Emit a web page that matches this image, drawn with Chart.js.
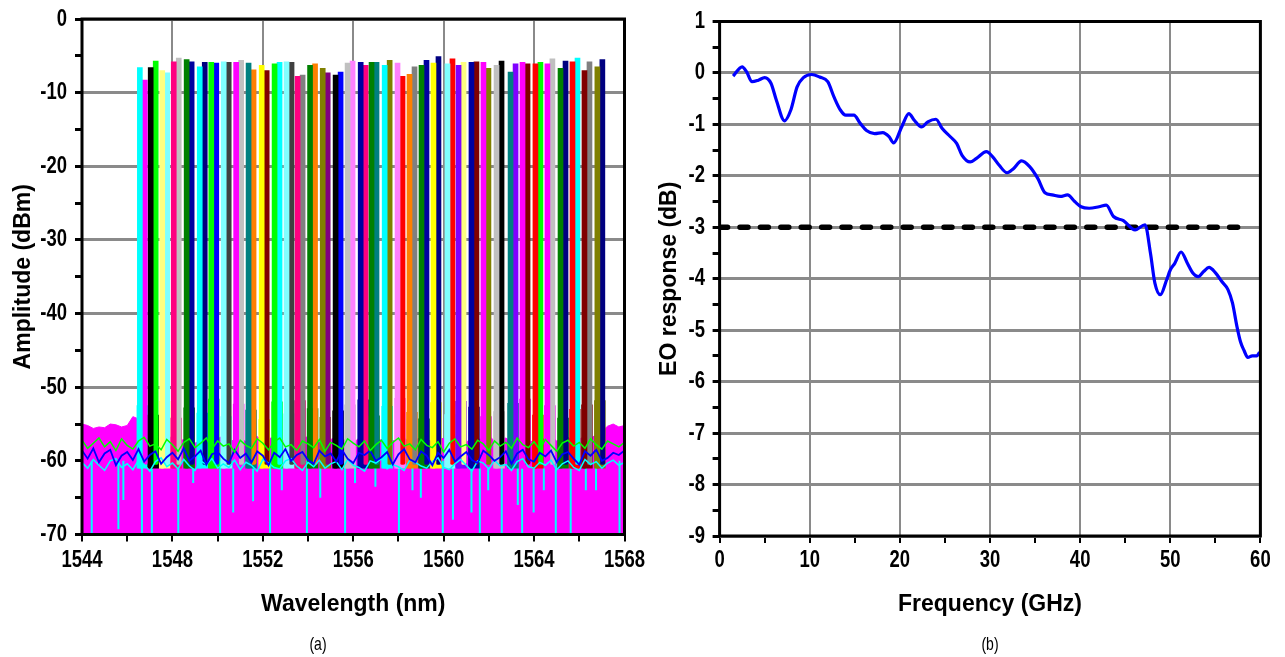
<!DOCTYPE html>
<html>
<head>
<meta charset="utf-8">
<script src="https://cdn.jsdelivr.net/npm/chart.js@4.4.1/dist/chart.umd.min.js"></script>
<style>
  html, body { margin: 0; padding: 0; background: #fff; }
  body { width: 1285px; height: 657px; position: relative; overflow: hidden; }
  #spec { position: absolute; left: 0; top: 0; }
  #eo { position: absolute; left: 640px; top: 0; }
  .caption { position: absolute; top: 636px; font: 14px 'Liberation Sans', sans-serif; color: #000; transform: translateX(-50%) scaleY(1.3); }
</style>
</head>
<body>
<canvas id="spec" width="660" height="657"></canvas>
<canvas id="eo" width="645" height="657"></canvas>
<div class="caption" style="left:318px">(a)</div>
<div class="caption" style="left:990px">(b)</div>
<script>
// ---- (a) optical spectrum of the comb channels ----
// channel pairs (nm) and their peak levels (dBm), left / right trace of each pair
const channelNm = [1546.67, 1547.15, 1547.66, 1548.17, 1548.74, 1549.32, 1549.83, 1550.38, 1550.93, 1551.48,
  1552.06, 1552.63, 1553.16, 1553.65, 1554.20, 1554.76, 1555.33, 1555.86, 1556.44, 1556.92,
  1557.50, 1558.07, 1558.60, 1559.13, 1559.66, 1560.28, 1560.77, 1561.34, 1561.87, 1562.45,
  1563.07, 1563.60, 1564.17, 1564.70, 1565.28, 1565.81, 1566.34, 1566.91];
const peakA = [-8.3, -5.7, -7.3, -5.3, -5.8, -5.9, -6.0, -5.9, -5.6, -6.9,
  -7.0, -5.9, -5.9, -7.6, -6.1, -7.3, -7.2, -5.7, -6.3, -5.9,
  -5.6, -7.8, -6.5, -5.6, -5.1, -5.4, -5.9, -5.8, -6.7, -5.7,
  -6.1, -6.1, -5.9, -5.4, -5.7, -5.3, -5.8, -5.5];
const peakB = [-6.6, -6.6, -7.0, -5.8, -5.5, -6.5, -5.9, -5.8, -5.9, -6.0,
  -6.3, -6.1, -5.8, -7.8, -6.3, -6.7, -7.6, -6.0, -5.9, -5.9,
  -6.3, -6.0, -7.5, -6.3, -6.0, -6.1, -6.3, -5.9, -5.9, -6.3,
  -7.2, -5.9, -6.1, -6.1, -6.7, -5.8, -7.0, -6.5];
// level where the wider skirt of each channel pair starts
const skirtTop = [-52.5, -53.8, -51.9, -54.2, -52.8, -53.5, -51.6, -54.0, -52.3, -53.1,
  -54.4, -52.0, -53.6, -51.8, -52.9, -54.1, -53.2, -52.4, -51.7, -53.9,
  -52.6, -51.5, -53.4, -54.3, -52.1, -53.7, -51.9, -52.7, -54.0, -53.3,
  -52.2, -51.6, -53.8, -52.5, -54.2, -53.0, -52.4, -51.8];
const floorA = -60.5;
const floorB = -61;

// noise floor envelope and noise traces, 0.25 nm steps from 1544 nm
const floorStartNm = 1544, floorStepNm = 0.25;
const floorTop = [-55.0, -55.2, -55.6, -55.4, -55.5, -55.0, -55.1, -55.4, -55.2, -54.0, -54.3,
  -56.8, -57.3, -56.6, -57.5, -57.0, -56.7, -57.4, -57.1, -56.9, -57.6,
  -57.2, -56.8, -57.3, -57.0, -56.6, -57.5, -57.1, -56.9, -57.4, -57.2,
  -56.7, -57.3, -57.0, -56.8, -57.6, -57.1, -56.9, -57.4, -57.0, -56.7,
  -57.2, -57.5, -56.9, -57.1, -56.8, -57.3, -57.0, -57.6, -56.9, -57.2,
  -56.8, -57.4, -57.1, -56.7, -57.3, -57.0, -56.9, -57.5, -57.2, -56.8,
  -57.1, -57.4, -56.9, -57.0, -57.3, -56.7, -57.2, -57.5, -56.8, -57.1,
  -57.0, -56.6, -57.3, -57.2, -56.9, -57.4, -57.0, -56.8, -57.2, -57.5,
  -56.9, -57.1, -56.7, -57.3, -57.0, -56.8, -57.4, -57.1, -56.6, -57.0,
  -56.4, -56.0, -55.3, -55.0, -55.4, -55.2];
const noiseBlue = [-58.6, -59.7, -58.3, -60.2, -59.0, -58.5, -60.6, -59.3, -58.8, -59.9,
  -58.4, -60.1, -59.2, -58.7, -60.4, -59.5, -58.9, -59.8, -58.3, -60.0,
  -59.4, -58.6, -60.5, -59.1, -58.8, -59.7, -60.3, -58.5, -59.6, -59.0,
  -60.2, -58.7, -59.3, -60.6, -58.9, -59.5, -58.4, -60.0, -59.2, -58.8,
  -59.9, -60.4, -58.6, -59.4, -59.0, -60.1, -58.5, -59.7, -60.3, -58.9,
  -59.2, -58.6, -60.0, -59.5, -58.8, -60.5, -59.1, -58.4, -59.8, -60.2,
  -58.7, -59.3, -60.6, -58.9, -59.6, -58.5, -60.1, -59.4, -58.8, -59.9,
  -60.3, -58.6, -59.2, -60.0, -59.5, -58.7, -60.4, -59.0, -58.5, -59.8,
  -60.1, -58.9, -59.4, -58.6, -60.2, -59.1, -58.8, -59.7, -60.5, -58.7,
  -59.3, -58.5, -60.0, -59.6, -58.9, -59.2, -58.6];
const noiseGreen = [-57.2, -58.3, -57.6, -56.9, -58.1, -57.4, -58.6, -57.0, -57.9, -58.4,
  -57.3, -56.8, -58.0, -57.7, -58.5, -57.1, -57.8, -58.7, -57.5, -57.0,
  -58.2, -57.6, -56.9, -58.4, -57.3, -58.0, -57.7, -58.8, -57.2, -57.9,
  -58.3, -57.0, -57.6, -58.5, -57.4, -56.9, -58.1, -57.8, -58.6, -57.3,
  -57.7, -58.2, -57.1, -58.7, -57.5, -57.9, -58.4, -57.0, -57.6, -58.1,
  -57.3, -58.6, -57.8, -57.2, -58.3, -57.5, -56.9, -58.0, -57.7, -58.5,
  -57.1, -57.9, -58.2, -57.4, -58.8, -57.6, -57.0, -58.1, -57.8, -58.4,
  -57.2, -57.7, -58.6, -57.3, -58.0, -57.5, -58.3, -56.9, -57.8, -58.2,
  -57.4, -58.5, -57.1, -57.9, -58.7, -57.6, -57.2, -58.0, -57.5, -58.3,
  -57.0, -57.8, -58.4, -57.3, -57.7, -58.1, -57.5];
const noiseCyan = [-60.2, -61.0, -59.8, -60.6, -61.3, -60.0, -59.7, -60.9, -60.4, -61.2,
  -59.9, -60.5, -61.4, -60.1, -59.6, -60.8, -60.3, -61.1, -59.8, -60.7,
  -61.3, -60.0, -60.5, -59.7, -61.0, -60.4, -60.9, -59.9, -61.2, -60.2,
  -60.6, -61.4, -59.8, -60.3, -60.9, -61.1, -60.0, -59.7, -60.7, -61.3,
  -60.2, -60.8, -59.9, -61.0, -60.4, -60.1, -61.2, -59.8, -60.6, -60.9,
  -61.4, -60.0, -60.3, -59.7, -61.1, -60.5, -60.8, -61.3, -59.9, -60.2,
  -60.7, -61.0, -60.1, -59.6, -60.9, -61.2, -60.4, -59.8, -60.6, -61.4,
  -60.0, -60.3, -61.1, -59.9, -60.7, -60.5, -61.3, -60.1, -59.7, -60.8,
  -61.0, -60.2, -60.6, -59.9, -61.2, -60.4, -60.0, -60.9, -61.3, -59.8,
  -60.5, -60.1, -61.0, -60.3, -59.9, -60.6, -60.2];

// deep noise dips
const dipNm = [1544.43, 1545.61, 1545.83, 1546.65, 1547.09, 1548.26, 1548.92, 1550.11, 1550.69, 1551.57,
  1552.32, 1552.84, 1553.95, 1554.54, 1555.64, 1556.08, 1556.98, 1558.02, 1558.62, 1558.99,
  1559.96, 1560.41, 1561.23, 1561.60, 1561.97, 1562.57, 1563.28, 1563.47, 1563.98, 1564.43,
  1564.96, 1565.62, 1566.29, 1566.74, 1567.78];
const dipDbm = [-70, -69.3, -65.3, -70, -70, -70, -63, -70, -67, -65.5,
  -70, -64, -70, -65, -70, -63, -63.5, -70, -64, -65,
  -70, -68, -67, -70, -64, -70, -66, -70, -67, -64,
  -70, -70, -64, -64, -70];
const dipTop = -60;

// ---- (b) EO response ----
const eoFreq = [1.5, 2.5, 3.0, 3.6, 4.3, 5.0, 5.7, 6.3, 7.2, 7.9, 8.6, 9.3, 10.2, 11.1, 12.0, 12.7, 13.4, 14.0, 14.9, 15.6,
  16.3, 17.2, 18.1, 18.8, 19.3, 20.2, 21.0, 21.6, 22.4, 23.1, 24.0, 24.7, 25.6, 26.3, 26.9, 27.8, 28.5, 29.6, 30.3, 31.0,
  31.9, 32.6, 33.5, 34.4, 35.3, 36.1, 36.9, 37.8, 38.6, 39.4, 40.1, 41.0, 42.1, 42.9, 43.7, 44.8, 46.1, 47.2, 47.8, 48.3,
  48.9, 49.6, 50.0, 50.5, 51.2, 51.9, 52.5, 53.1, 53.7, 54.3, 55.0, 55.7, 56.4, 56.9, 57.4, 57.8, 58.2, 58.6, 59.1, 59.6, 59.9];
const eoDb = [-0.06, 0.12, 0.02, -0.17, -0.14, -0.09, -0.2, -0.53, -0.93, -0.72, -0.27, -0.09, -0.03, -0.08, -0.17, -0.47, -0.72, -0.82, -0.82, -0.98,
  -1.12, -1.18, -1.16, -1.24, -1.36, -1.05, -0.79, -0.92, -1.05, -0.95, -0.9, -1.08, -1.24, -1.37, -1.6, -1.73, -1.66, -1.53, -1.63, -1.79,
  -1.94, -1.86, -1.71, -1.82, -2.05, -2.33, -2.37, -2.40, -2.37, -2.5, -2.6, -2.63, -2.6, -2.57, -2.79, -2.87, -3.05, -2.95, -3.5, -4.09,
  -4.31, -4.02, -3.83, -3.7, -3.48, -3.7, -3.89, -3.96, -3.86, -3.78, -3.88, -4.05, -4.21, -4.47, -4.93, -5.23, -5.4, -5.53, -5.5, -5.5, -5.43];
const cutoffGHz = [0, 58.5];
const cutoffDb = [-3, -3];

// Origin style colours for the overlaid traces
const colorA = ['#FF00FF', '#00FF00', '#80FFFF', '#C0C0C0', '#0000A0', '#000080', '#0000FF', '#404040', '#C0C0C0', '#FF8000',
  '#800000', '#00FFFF', '#404040', '#808080', '#FF8000', '#800080', '#0000FF', '#FF80FF', '#FF0080', '#008080',
  '#808000', '#FF0000', '#808080', '#0000A0', '#000080', '#FF0000', '#FFFF80', '#800000', '#808000', '#000000',
  '#8000FF', '#800000', '#00FF00', '#C0C0C0', '#000080', '#00FFFF', '#808080', '#000080'];
const colorB = ['#00FFFF', '#000000', '#FFFF80', '#FF0080', '#008000', '#00FFFF', '#00FF00', '#80FFFF', '#FF00FF', '#008080',
  '#FFFF00', '#00FF00', '#80FFFF', '#FF0080', '#008000', '#808000', '#000000', '#C0C0C0', '#0000A0', '#008000',
  '#00FFFF', '#FF80FF', '#FF8000', '#008000', '#FFFF00', '#80FFFF', '#8000FF', '#0000A0', '#FF00FF', '#C0C0C0',
  '#008080', '#FF00FF', '#FF0000', '#FF00FF', '#008000', '#FF0000', '#800000', '#808000'];

// tick labels use a marker family so they can be drawn tall and narrow like the original
const tickFont = { family: "Arimo, 'Liberation Sans', sans-serif", size: 18.5, weight: 'bold' };
const titleFont = { family: "'Liberation Sans', Arial, sans-serif", size: 23, weight: 'bold' };
const gridGray = '#8a8a8a';

function tallLabels(canvas) {
  const ctx = canvas.getContext('2d');
  const fill = ctx.fillText.bind(ctx);
  ctx.fillText = function (t, x, y, w) {
    if (this.font.indexOf('Arimo') < 0) return fill(t, x, y, w);
    this.save();
    this.translate(x, y);
    this.scale(1, 1.28);
    fill(t, 0, 0, w);
    this.restore();
  };
}

// black box round the plot area
const frame = {
  id: 'frame',
  afterDatasetsDraw(chart) {
    const { ctx, chartArea: a } = chart;
    ctx.save();
    ctx.strokeStyle = '#000';
    ctx.lineWidth = 3;
    ctx.strokeRect(a.left, a.top, a.right - a.left, a.bottom - a.top);
    ctx.restore();
  }
};

function xAxis(min, max, step, major, height, padding, title, titlePad) {
  return {
    type: 'linear', min, max, offset: false,
    ticks: { stepSize: step, autoSkip: false, maxRotation: 0, color: '#000', font: tickFont, padding,
      callback: v => (v % major === 0 ? String(v) : '') },
    grid: { offset: false, lineWidth: 2, tickLength: 7, tickWidth: 2, tickColor: '#000',
      color: c => (c.tick && c.tick.value % major === 0 ? gridGray : 'rgba(0,0,0,0)') },
    border: { display: false },
    title: { display: true, text: title, color: '#000', font: titleFont, padding: { top: 0, bottom: titlePad } },
    afterFit(s) { s.height = height; s.paddingLeft = 0; s.paddingRight = 0; }
  };
}

function yAxis(min, max, step, major, width, padding, title, titlePad) {
  return {
    type: 'linear', min, max,
    ticks: { stepSize: step, autoSkip: false, color: '#000', font: tickFont, padding,
      callback: v => (Math.abs(v % major) < 1e-9 ? String(v) : '') },
    grid: { lineWidth: 3, tickLength: 7, tickWidth: 3, tickColor: '#000',
      color: c => (c.tick && Math.abs(c.tick.value % major) < 1e-9 ? gridGray : 'rgba(0,0,0,0)') },
    border: { display: false },
    title: { display: true, text: title, color: '#000', font: titleFont, padding: { top: titlePad, bottom: 0 } },
    afterFit(s) { s.width = width; s.paddingTop = 0; s.paddingBottom = 0; }
  };
}

const specCanvas = document.getElementById('spec');
const eoCanvas = document.getElementById('eo');
tallLabels(specCanvas);
tallLabels(eoCanvas);

// dips as separate vertical strokes, broken by null points
const dipPoints = [];
dipNm.forEach((x, i) => {
  dipPoints.push({ x, y: dipTop }, { x, y: dipDbm[i] }, { x, y: null });
});

const onFloorGrid = arr => arr.map((y, i) => ({ x: floorStartNm + i * floorStepNm, y }));

new Chart(specCanvas, {
  type: 'line',
  data: {
    datasets: [
      { data: onFloorGrid(floorTop), borderColor: '#FF00FF', borderWidth: 1, backgroundColor: '#FF00FF',
        fill: 'start', pointRadius: 0, order: 50 },
      { data: dipPoints, borderColor: '#00FFFF', borderWidth: 2, pointRadius: 0, spanGaps: false, order: 40 },
      { type: 'bar', data: channelNm.map((x, i) => ({ x, y: [floorB, skirtTop[i]] })), backgroundColor: colorB,
        grouped: false, categoryPercentage: 1, barPercentage: 1, maxBarThickness: 11, order: 35 },
      { type: 'bar', data: channelNm.map((x, i) => ({ x, y: [floorA, peakA[i]] })),
        backgroundColor: colorA, barThickness: 5, borderRadius: 2, order: 30 },
      { type: 'bar', data: channelNm.map((x, i) => ({ x, y: [floorB, peakB[i]] })),
        backgroundColor: colorB, barThickness: 5, borderRadius: 2, order: 29 },
      { data: onFloorGrid(noiseCyan), borderColor: '#00FFFF', borderWidth: 1.5, pointRadius: 0, order: 21 },
      { data: onFloorGrid(noiseBlue), borderColor: '#0000FF', borderWidth: 1.8, pointRadius: 0, order: 20 },
      { data: onFloorGrid(noiseGreen), borderColor: '#00FF00', borderWidth: 1.5, pointRadius: 0, order: 19 }
    ]
  },
  options: {
    responsive: false,
    animation: false,
    plugins: { legend: { display: false }, tooltip: { enabled: false } },
    layout: { padding: { left: 0, top: 19, right: 35.5, bottom: 0 } },
    scales: {
      x: xAxis(1544, 1568, 2, 4, 122.5, 7.5, 'Wavelength (nm)', 39),
      y: yAxis(-70, 0, 5, 10, 82, 8, 'Amplitude (dBm)', 10)
    }
  },
  plugins: [frame]
});

new Chart(eoCanvas, {
  type: 'line',
  data: {
    datasets: [
      { data: eoFreq.map((x, i) => ({ x, y: eoDb[i] })), borderColor: '#0000FF', borderWidth: 3.2,
        cubicInterpolationMode: 'monotone', borderJoinStyle: 'round', pointRadius: 0, order: 1 },
      { data: cutoffGHz.map((x, i) => ({ x, y: cutoffDb[i] })), borderColor: '#000', borderWidth: 5.5,
        borderDash: [8, 12.4], borderCapStyle: 'round', pointRadius: 0, order: 2 }
    ]
  },
  options: {
    responsive: false,
    animation: false,
    plugins: { legend: { display: false }, tooltip: { enabled: false } },
    layout: { padding: { left: 0, top: 21.5, right: 24.6, bottom: 0 } },
    scales: {
      x: xAxis(0, 60, 5, 10, 121, 6.5, 'Frequency (GHz)', 39),
      y: yAxis(-9, 1, 0.5, 1, 79.6, 7.6, 'EO response (dB)', 16)
    }
  },
  plugins: [frame]
});
</script>
</body>
</html>
